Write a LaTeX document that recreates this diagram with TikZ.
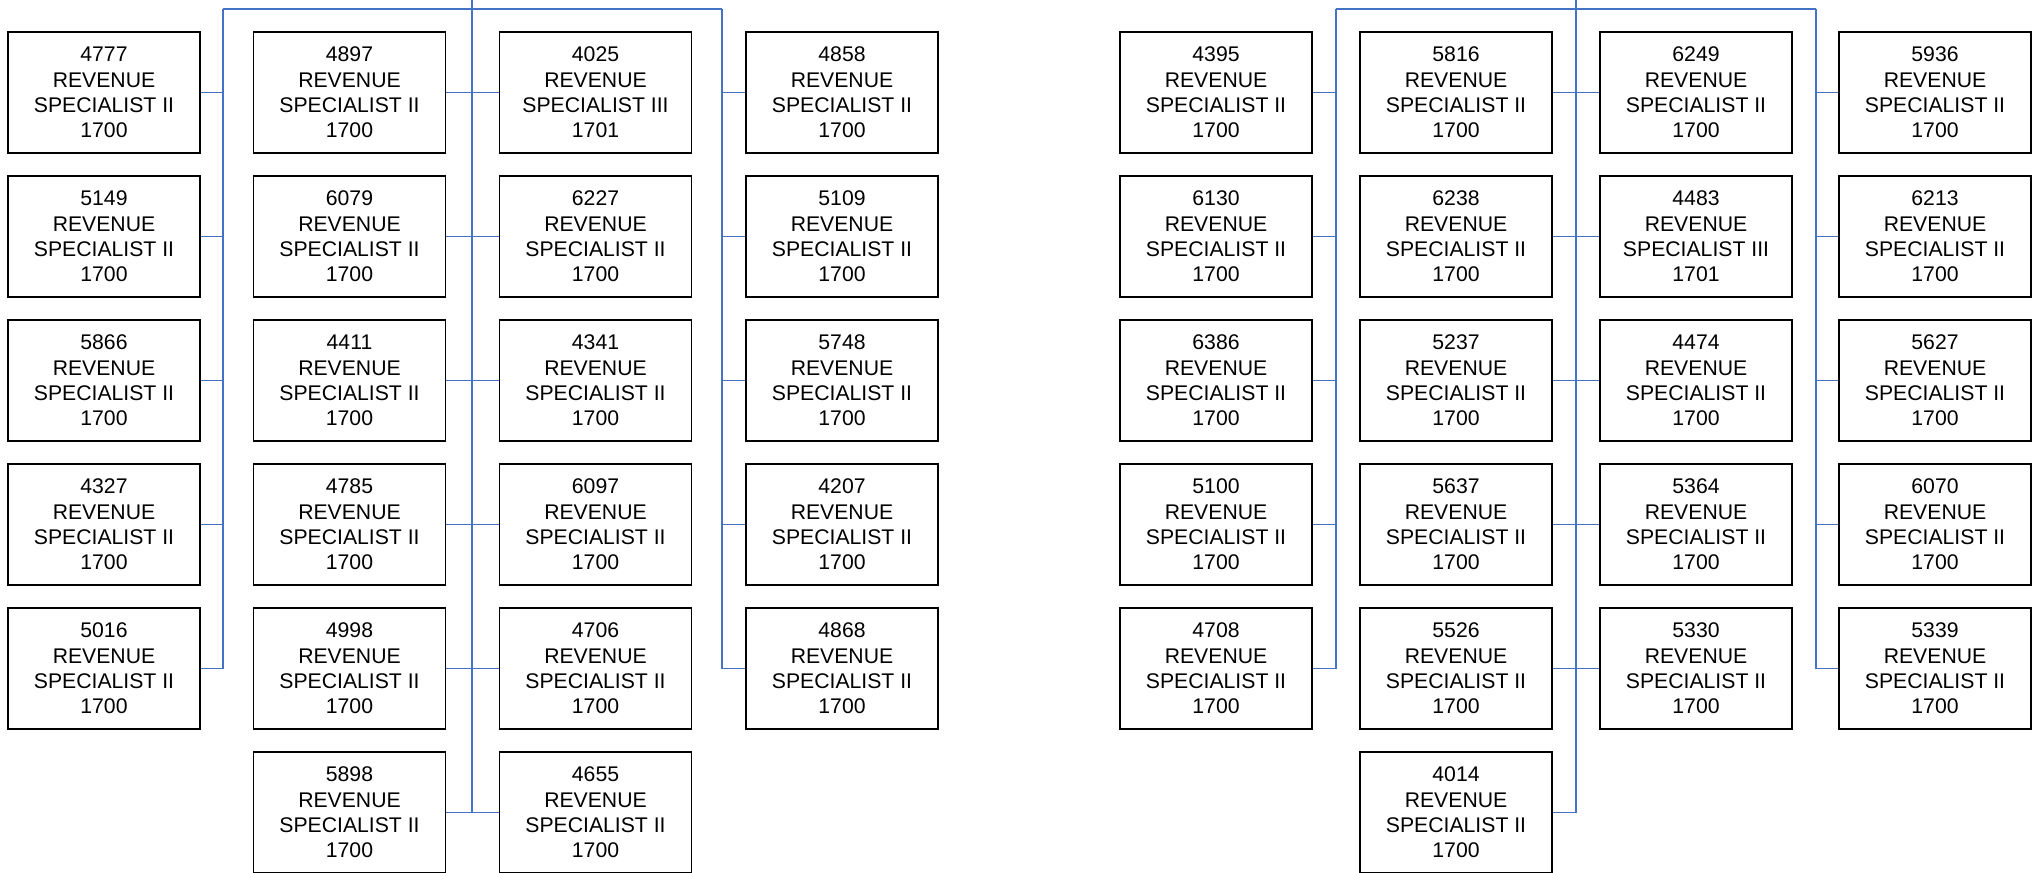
\documentclass[tikz,border=0pt]{standalone}
\usepackage{fontspec}
\setmainfont{Liberation Sans}
\definecolor{busblue}{HTML}{4472C4}
\begin{document}
\begin{tikzpicture}[x=0.5pt,y=-0.5pt,
  posbox/.style={draw=black,line width=0.9pt,minimum width=96pt,minimum height=60.5pt,inner sep=0pt,align=center,font=\fontsize{10.6}{12.65}\selectfont},
  bus/.style={draw=busblue,line width=1pt},
  stub/.style={draw=busblue,line width=0.8pt}]
\useasboundingbox (0,0) rectangle (2032,872);
% bus coordinates
\coordinate (LA) at (223,9);
\coordinate (LC) at (472,0);
\coordinate (LD) at (722,9);
\coordinate (RA) at (1336,9);
\coordinate (RC) at (1576,0);
\coordinate (RD) at (1816,9);
% Left group
\foreach \id [count=\r from 0] in {4777,5149,5866,4327,5016}
  \node[posbox] (L1-\r) at (104,92.5+144*\r) {\id\\REVENUE\\SPECIALIST II\\1700};
\foreach \id [count=\r from 0] in {4897,6079,4411,4785,4998,5898}
  \node[posbox] (L2-\r) at (349.5,92.5+144*\r) {\id\\REVENUE\\SPECIALIST II\\1700};
\node[posbox] (L3-0) at (595.5,92.5) {4025\\REVENUE\\SPECIALIST III\\1701};
\foreach \id [count=\r from 1] in {6227,4341,6097,4706,4655}
  \node[posbox] (L3-\r) at (595.5,92.5+144*\r) {\id\\REVENUE\\SPECIALIST II\\1700};
\foreach \id [count=\r from 0] in {4858,5109,5748,4207,4868}
  \node[posbox] (L4-\r) at (842,92.5+144*\r) {\id\\REVENUE\\SPECIALIST II\\1700};
% Right group
\foreach \id [count=\r from 0] in {4395,6130,6386,5100,4708}
  \node[posbox] (R1-\r) at (1216,92.5+144*\r) {\id\\REVENUE\\SPECIALIST II\\1700};
\foreach \id [count=\r from 0] in {5816,6238,5237,5637,5526,4014}
  \node[posbox] (R2-\r) at (1456,92.5+144*\r) {\id\\REVENUE\\SPECIALIST II\\1700};
\node[posbox] (R3-0) at (1696,92.5) {6249\\REVENUE\\SPECIALIST II\\1700};
\node[posbox] (R3-1) at (1696,236.5) {4483\\REVENUE\\SPECIALIST III\\1701};
\foreach \id [count=\r from 2] in {4474,5364,5330}
  \node[posbox] (R3-\r) at (1696,92.5+144*\r) {\id\\REVENUE\\SPECIALIST II\\1700};
\foreach \id [count=\r from 0] in {5936,6213,5627,6070,5339}
  \node[posbox] (R4-\r) at (1935,92.5+144*\r) {\id\\REVENUE\\SPECIALIST II\\1700};
% buses
\draw[bus] (LA) -- (LD);
\draw[bus] (LA) -- (LA |- L1-4.east);
\draw[bus] (LD) -- (LD |- L4-4.west);
\draw[bus] (LC) -- (LC |- L2-5.east);
\draw[bus] (RA) -- (RD);
\draw[bus] (RA) -- (RA |- R1-4.east);
\draw[bus] (RD) -- (RD |- R4-4.west);
\draw[bus] (RC) -- (RC |- R2-5.east);
% stubs
\foreach \r in {0,...,4} {
  \draw[stub] (L1-\r.east) -- (L1-\r.east -| LA);
  \draw[stub] (L4-\r.west) -- (L4-\r.west -| LD);
  \draw[stub] (R1-\r.east) -- (R1-\r.east -| RA);
  \draw[stub] (R4-\r.west) -- (R4-\r.west -| RD);
  \draw[stub] (R3-\r.west) -- (R3-\r.west -| RC);
}
\foreach \r in {0,...,5} {
  \draw[stub] (L2-\r.east) -- (L2-\r.east -| LC);
  \draw[stub] (L3-\r.west) -- (L3-\r.west -| LC);
  \draw[stub] (R2-\r.east) -- (R2-\r.east -| RC);
}
\end{tikzpicture}
\end{document}
